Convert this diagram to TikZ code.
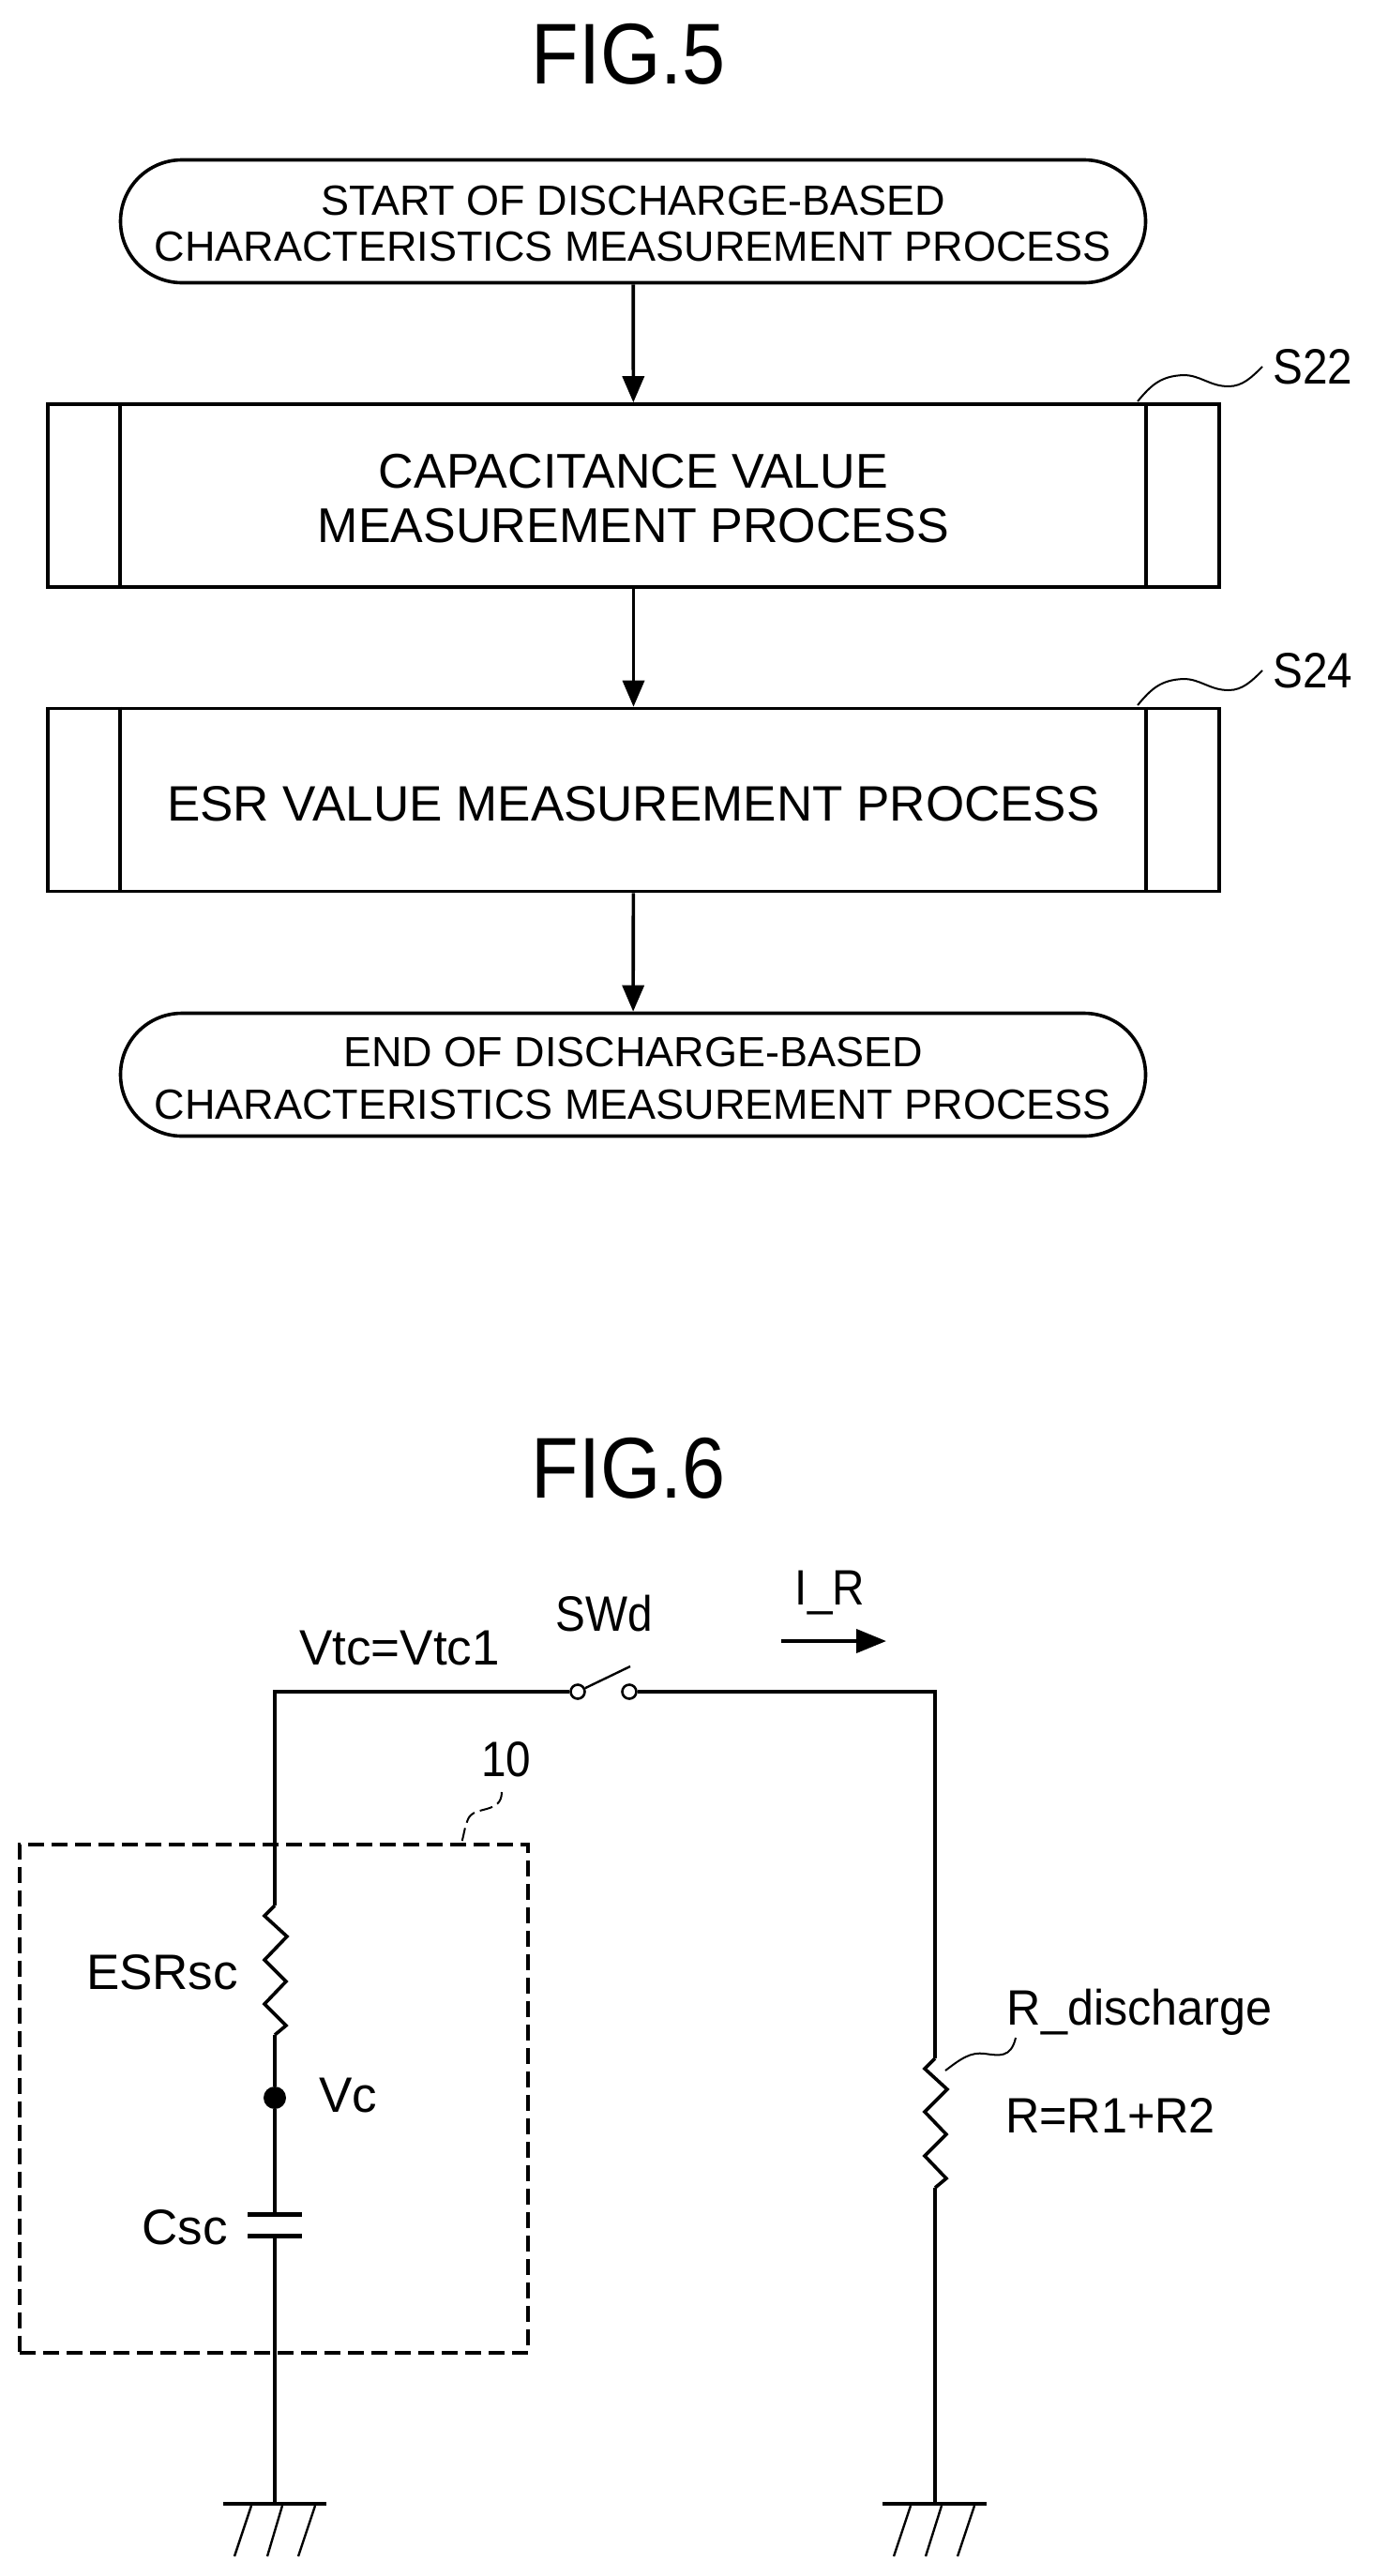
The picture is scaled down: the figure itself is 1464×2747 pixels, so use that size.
\documentclass[tikz,border=0pt]{standalone}
\usepackage{fontspec}
\usetikzlibrary{shapes.misc,arrows.meta}
\setmainfont{Liberation Sans}
\newfontfamily\narrowf[FakeStretch=0.9]{Liberation Sans}
\newfontfamily\midf[FakeStretch=0.95]{Liberation Sans}
\tikzset{
  x=1pt,y=-1pt,
  wire/.style={line width=3.6pt,line join=miter},
  thin wire/.style={line width=2.4pt},
  lead/.style={line width=2pt},
  box/.style={draw,line width=3.6pt,minimum width=1249pt,minimum height=195pt,inner sep=0pt,align=center},
  term/.style={draw,rounded rectangle,line width=3.6pt,minimum width=1093pt,minimum height=131pt,inner sep=0pt,align=center},
  flow/.style={font=\fontsize{45}{49}\selectfont},
  flowend/.style={font=\fontsize{45}{56}\selectfont},
  flowbig/.style={font=\fontsize{52}{58}\selectfont},
  flowwide/.style={font=\fontsize{53}{58}\selectfont},
  big/.style={font=\fontsize{92}{92}\selectfont\narrowf,inner sep=0pt},
  lab/.style={font=\fontsize{53}{53}\selectfont,inner sep=0pt},
  labn/.style={font=\fontsize{53}{53}\selectfont\narrowf,inner sep=0pt},
  labm/.style={font=\fontsize{53}{53}\selectfont\midf,inner sep=0pt},
  arr/.style={wire,-{Triangle[length=28pt,width=23pt]}},
  swc/.style={circle,draw,line width=2.6pt,minimum size=15pt,inner sep=0pt},
}
\begin{document}
\begin{tikzpicture}
\useasboundingbox (0,0) rectangle (1464,2747);
% FIG 5
\node[big] (fig5) at (670,58) {FIG.5};
\node[term,flow] (start) at (675,236) {\rule{0pt}{36pt}START OF DISCHARGE-BASED\\CHARACTERISTICS MEASUREMENT PROCESS};
\node[box,flowbig] (cap) at (675.5,528.5) {\rule{0pt}{42pt}CAPACITANCE VALUE\\MEASUREMENT PROCESS};
\node[box,flowwide] (esr) at (675.5,853) {\rule{0pt}{46pt}ESR VALUE MEASUREMENT PROCESS};
\node[term,flowend] (end) at (675,1146) {\rule{0pt}{39pt}END OF DISCHARGE-BASED\\CHARACTERISTICS MEASUREMENT PROCESS};
\foreach \b in {cap,esr}{
  \draw[wire] ([xshift=79pt]\b.north west) -- ([xshift=79pt]\b.south west);
  \draw[wire] ([xshift=-80pt]\b.north east) -- ([xshift=-80pt]\b.south east);
}
\draw[arr] (start) -- (cap);
\draw[arr] (cap) -- (esr);
\draw[arr] (esr) -- (end);
\node[labn] (s22) at (1400,391) {S22};
\node[labn] (s24) at (1400,715) {S24};
\coordinate (s22a) at (1213,428);
\coordinate (s24a) at (1213,752);
\coordinate (s22b) at (1346,391);
\coordinate (s24b) at (1346,715);
\draw[lead] (s22a) .. controls (1228,410) and (1238,401) .. (1262,400) .. controls (1280,400) and (1290,412) .. (1310,412) .. controls (1325,412) and (1335,402) .. (s22b);
\draw[lead] (s24a) .. controls (1228,734) and (1238,725) .. (1262,724) .. controls (1280,724) and (1290,736) .. (1310,736) .. controls (1325,736) and (1335,726) .. (s24b);
% FIG 6
\node[big] (fig6) at (670,1566) {FIG.6};
\node[lab] (vtc) at (426,1758) {Vtc=Vtc1};
\node[labn] (swd) at (644,1721) {SWd};
\node[labn] (ir) at (885,1699) {I\_R};
\coordinate (ira) at (833,1750);
\coordinate (irb) at (945,1750);
\draw[line width=4pt,-{Triangle[length=32pt,width=25pt]}] (ira) -- (irb);
\node[labn] (ten) at (540,1876) {10};
\coordinate (tl) at (293,1804);
\coordinate (tr) at (997,1804);
\node[swc] (sw1) at (616,1804) {};
\node[swc] (sw2) at (671,1804) {};
\coordinate (blade) at (672,1777);
\draw[wire] (sw1) -- (tl) -- (293,2032) coordinate (r1t);
\draw[wire] (sw2) -- (tr) -- (997,2195) coordinate (r2t);
\draw[line width=2.4pt] (sw1) -- (blade);
% ESR resistor
\coordinate (r1b) at (293,2170);
\draw[wire] (r1t) -- (282,2043) -- (306,2065) -- (282,2090) -- (305,2113) -- (282,2137) -- (305,2160) -- (r1b);
\node[lab] (esrl) at (173,2103) {ESRsc};
\node[circle,fill=black,minimum size=24pt,inner sep=0pt] (vcd) at (293,2237) {};
\node[lab] (vcl) at (371,2234) {Vc};
\coordinate (c1) at (293,2361);
\coordinate (c2) at (293,2384);
\draw[wire] (r1b) -- (vcd) -- (c1);
\draw[line width=5pt] (264,2361) -- (322,2361);
\draw[line width=5pt] (264,2384) -- (322,2384);
\node[lab] (cscl) at (197,2375) {Csc};
\coordinate (g1) at (293,2670);
\draw[wire] (c2) -- (g1);
\draw[line width=4.5pt] (238,2670) -- (348,2670);
\draw[thin wire] (268,2672) -- (250,2726);
\draw[thin wire] (301,2672) -- (285,2726);
\draw[thin wire] (336,2672) -- (318,2726);
% R resistor
\coordinate (r2b) at (997,2333);
\draw[wire] (r2t) -- (986,2206) -- (1010,2228) -- (986,2252) -- (1009,2276) -- (986,2299) -- (1009,2323) -- (r2b);
\coordinate (g2) at (997,2670);
\draw[wire] (r2b) -- (g2);
\draw[line width=4.5pt] (941,2670) -- (1052,2670);
\draw[thin wire] (971,2672) -- (953,2726);
\draw[thin wire] (1004,2672) -- (987,2726);
\draw[thin wire] (1039,2672) -- (1021,2726);
\node[labm] (rd) at (1215,2146) {R\_discharge};
\node[labm] (rr) at (1184,2256) {R=R1+R2};
\draw[lead] (1083,2173) .. controls (1078,2195) and (1065,2192) .. (1050,2190) .. controls (1035,2188) and (1025,2195) .. (1008,2208);
% dashed box
\node[draw,dash pattern=on 17pt off 8pt,line width=4pt,minimum width=542pt,minimum height=542pt,inner sep=0pt] (unit) at (292,2237.5) {};
\draw[lead,dash pattern=on 14pt off 6pt] (535,1911) .. controls (535,1935) and (505,1925) .. (499,1940) .. controls (495,1950) and (495,1955) .. (492,1966);
\end{tikzpicture}
\end{document}
